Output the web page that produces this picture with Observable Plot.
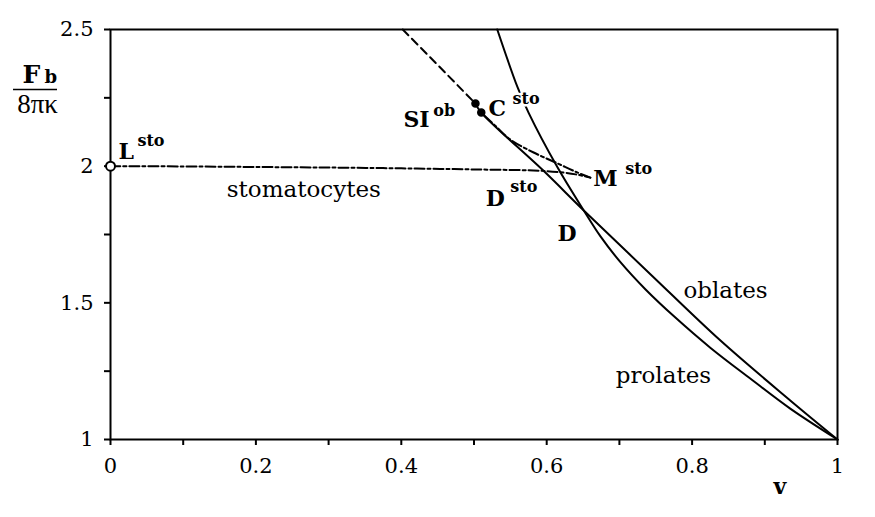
<!DOCTYPE html>
<html>
<head>
<meta charset="utf-8">
<script src="https://cdn.jsdelivr.net/npm/d3@7"></script>
<script src="https://cdn.jsdelivr.net/npm/@observablehq/plot@0.6"></script>
<style>
  html, body { margin: 0; padding: 0; background: #fff; }
  #chart svg { display: block; }
</style>
</head>
<body>
<div id="chart"></div>
<script>
// ---- data ----
const xTicks = [0, 0.1, 0.2, 0.3, 0.4, 0.5, 0.6, 0.7, 0.8, 0.9, 1];
const xTickLabels = ["0", "", "0.2", "", "0.4", "", "0.6", "", "0.8", "", "1"];
const yTicks = [1, 1.25, 1.5, 1.75, 2, 2.25, 2.5];
const yTickLabels = ["1", "", "1.5", "", "2", "", "2.5"];

// oblate branch (solid), from SI^ob / C^sto to the sphere (v=1, F=1)
const oblateV = [0.502, 0.510, 0.596, 0.651, 0.743, 0.839, 0.935, 1.0];
const oblateF = [2.229, 2.196, 1.982, 1.838, 1.604, 1.362, 1.143, 1.0];
// oblate branch beyond SI^ob (dashed)
const oblateDashV = [0.402, 0.452, 0.502];
const oblateDashF = [2.500, 2.365, 2.229];
// prolate branch (solid)
const prolateV = [0.532, 0.560, 0.575, 0.615, 0.651, 0.674, 0.702, 0.736, 0.777, 0.825, 0.880, 0.935, 1.0];
const prolateF = [2.500, 2.288, 2.196, 1.995, 1.838, 1.743, 1.647, 1.549, 1.446, 1.336, 1.223, 1.113, 1.0];
// stomatocyte branch (dash-dot): lower part L^sto -> M^sto, upper part M^sto -> C^sto
const stoLowV = [0.0, 0.1, 0.2, 0.3, 0.4, 0.5, 0.6, 0.64, 0.66];
const stoLowF = [2.0, 1.999, 1.997, 1.995, 1.992, 1.988, 1.982, 1.970, 1.958];
const stoUpV = [0.66, 0.642, 0.615, 0.582, 0.550, 0.530, 0.510];
const stoUpF = [1.958, 1.977, 2.010, 2.050, 2.097, 2.146, 2.196];

// special points
const dotNames = ["SI_ob", "C_sto"];
const dotV = [0.502, 0.510];
const dotF = [2.229, 2.196];
const openNames = ["L_sto"];
const openV = [0];
const openF = [2.0];

// annotations: text, anchor position (baseline-left) in data units
const labelText = ["L", "SI", "C", "D", "M", "D"];
const labelV = [0.011, 0.403, 0.520, 0.516, 0.664, 0.615];
const labelF = [2.028, 2.145, 2.182, 1.856, 1.929, 1.728];
const supText = ["sto", "ob", "sto", "sto", "sto"];
const supV = [0.037, 0.444, 0.553, 0.550, 0.708];
const supF = [2.072, 2.185, 2.229, 1.907, 1.973];
const regionText = ["stomatocytes", "oblates", "prolates"];
const regionV = [0.160, 0.788, 0.695];
const regionF = [1.889, 1.516, 1.208];

// ---- tables ----
const toRows = (V, F) => V.map((v, i) => ({v, F: F[i]}));
const oblate = toRows(oblateV, oblateF);
const oblateDash = toRows(oblateDashV, oblateDashF);
const prolate = toRows(prolateV, prolateF);
const stoLow = toRows(stoLowV, stoLowF);
const stoUp = toRows(stoUpV, stoUpF);
const dots = dotNames.map((n, i) => ({n, v: dotV[i], F: dotF[i]}));
const opens = openNames.map((n, i) => ({n, v: openV[i], F: openF[i]}));
const labels = labelText.map((t, i) => ({t, v: labelV[i], F: labelF[i]}));
const sups = supText.map((t, i) => ({t, v: supV[i], F: supF[i]}));
const regions = regionText.map((t, i) => ({t, v: regionV[i], F: regionF[i]}));

const serif = "DejaVu Serif";
const dashDot = "10,3,3,3";

const chart = Plot.plot({
  width: 875,
  height: 517,
  marginLeft: 110,
  marginRight: 38,
  marginTop: 29,
  marginBottom: 78,
  style: {fontFamily: serif, background: "#fff", color: "#000", overflow: "visible"},
  x: {domain: [0, 1]},
  y: {domain: [1, 2.5]},
  marks: [
    Plot.axisX({
      ticks: xTicks, tickSize: 6, tickPadding: 13, strokeWidth: 2,
      tickFormat: (d, i) => xTickLabels[i], fontSize: 21, label: null
    }),
    Plot.axisY({
      ticks: yTicks, tickSize: 6, tickPadding: 11, strokeWidth: 2,
      tickFormat: (d, i) => yTickLabels[i], fontSize: 21, label: null
    }),
    Plot.frame({stroke: "#000", strokeWidth: 2}),
    Plot.line(oblateDash, {x: "v", y: "F", stroke: "#000", strokeWidth: 2, strokeDasharray: "8,5"}),
    Plot.line(oblate, {x: "v", y: "F", stroke: "#000", strokeWidth: 2, curve: "catmull-rom"}),
    Plot.line(prolate, {x: "v", y: "F", stroke: "#000", strokeWidth: 2, curve: "catmull-rom"}),
    Plot.line(stoLow, {x: "v", y: "F", stroke: "#000", strokeWidth: 2, strokeDasharray: dashDot, curve: "catmull-rom"}),
    Plot.line(stoUp, {x: "v", y: "F", stroke: "#000", strokeWidth: 2, strokeDasharray: dashDot, curve: "catmull-rom"}),
    Plot.dot(dots, {x: "v", y: "F", r: 3.5, fill: "#000", stroke: "#000"}),
    Plot.dot(opens, {x: "v", y: "F", r: 4.5, fill: "#fff", stroke: "#000", strokeWidth: 2}),
    Plot.text(labels, {x: "v", y: "F", text: "t", textAnchor: "start", lineAnchor: "bottom",
      fontSize: 22, fontWeight: "bold", fill: "#000"}),
    Plot.text(sups, {x: "v", y: "F", text: "t", textAnchor: "start", lineAnchor: "bottom",
      fontSize: 16, fontWeight: "bold", fill: "#000", stroke: "#fff", strokeWidth: 5}),
    Plot.text(regions, {x: "v", y: "F", text: "t", textAnchor: "start", lineAnchor: "bottom",
      fontSize: 23, fill: "#000"}),
    // x-axis name "v"
    Plot.text(["v"], {x: 0.912, y: 1, dy: 54, text: d => d, textAnchor: "start", lineAnchor: "bottom",
      fontSize: 22, fontWeight: "bold", fill: "#000"}),
    // y-axis name: F_b over 8πκ
    Plot.text(["F"], {x: 0, y: 2.5, dx: -88, dy: 53, text: d => d, textAnchor: "start", lineAnchor: "bottom",
      fontSize: 25, fontWeight: "bold", fill: "#000"}),
    Plot.text(["b"], {x: 0, y: 2.5, dx: -66, dy: 53, text: d => d, textAnchor: "start", lineAnchor: "bottom",
      fontSize: 18, fontWeight: "bold", fill: "#000"}),
    Plot.ruleY([2.5], {x1: -0.1334, x2: -0.0729, dy: 60, stroke: "#000", strokeWidth: 1.5}),
    Plot.text(["8πκ"], {x: 0, y: 2.5, dx: -73, dy: 83, text: d => d, textAnchor: "middle", lineAnchor: "bottom",
      fontSize: 27, fontFamily: "Liberation Serif", fill: "#000"})
  ]
});
document.getElementById("chart").appendChild(chart);
</script>
</body>
</html>
